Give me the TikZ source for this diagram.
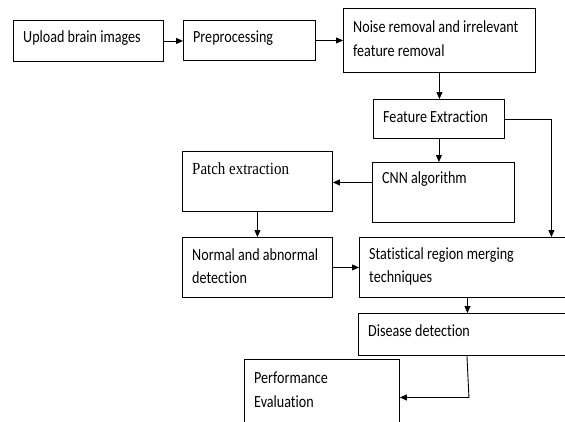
\documentclass[tikz,border=0pt]{standalone}
\usepackage{fontspec}
\setmainfont{Carlito}[FakeStretch=0.83, Ligatures=NoCommon]
\newfontfamily\timesfont{Liberation Serif}[FakeStretch=0.88]
\usetikzlibrary{arrows.meta}
\begin{document}
\begin{tikzpicture}[x=1pt,y=-1pt,
  box/.style={draw, line width=0.9pt, anchor=north west, inner sep=0pt},
  txt/.style={anchor=west, inner sep=0pt, align=left, font=\fontsize{17}{24.5}\selectfont},
  arr/.style={line width=0.9pt, -{Triangle[length=7pt,width=6pt]}}]
\useasboundingbox (0,0) rectangle (565,421);
\clip (0,0) rectangle (565,421);
% boxes
\node[box, minimum width=150pt, minimum height=41pt] (b1) at (13,20) {};
\node[box, minimum width=132pt, minimum height=40pt] (b2) at (183,20) {};
\node[box, minimum width=192pt, minimum height=64pt] (b3) at (343,8) {};
\node[box, minimum width=131pt, minimum height=39pt] (fe) at (373,99) {};
\node[box, minimum width=142pt, minimum height=60pt] (cnn) at (372,162) {};
\node[box, minimum width=150pt, minimum height=60pt] (patch) at (182,151) {};
\node[box, minimum width=150pt, minimum height=60pt] (normal) at (182,237) {};
\node[box, minimum width=216pt, minimum height=60pt] (stat) at (359,237) {};
\node[box, minimum width=217pt, minimum height=42pt] (disease) at (358,313) {};
\node[box, minimum width=155pt, minimum height=76pt] (perf) at (244,359) {};
% texts
\node[txt] (t1) at (23,38) {Upload brain images};
\node[txt] (t2) at (193,38) {Preprocessing};
\node[txt] (t3) at (353,38.5) {Noise removal and irrelevant\\feature removal};
\node[txt] (t4) at (383,117) {Feature Extraction};
\node[txt] (t5) at (382,179) {CNN algorithm};
\node[txt, font=\timesfont\fontsize{17}{20}\selectfont] (t6) at (192,169) {Patch extraction};
\node[txt, font=\fontsize{17}{23}\selectfont] (t7) at (192,266.5) {Normal and abnormal\\detection};
\node[txt, font=\fontsize{17}{23}\selectfont] (t8) at (369,266.5) {Statistical region merging\\techniques};
\node[txt] (t9) at (368,331) {Disease detection};
\node[txt] (t10) at (254,389.5) {Performance\\Evaluation};
% connectors
\draw[arr] (b1.east) -- (b1.east -| b2.west);
\draw[arr] (b2.east) -- (b2.east -| b3.west);
\draw[arr] (b3.south) -- (b3.south |- fe.north);
\draw[arr] (fe.south) -- (fe.south |- cnn.north);
\draw[arr] ([yshift=10pt]cnn.west) -- ([yshift=10pt]cnn.west -| patch.east);
\draw[arr] (fe.east) -| ([xshift=84pt]stat.north);
\draw[arr] (patch.south) -- (normal.north);
\draw[arr] (normal.east) -- (stat.west);
\draw[arr] (stat.south) -- (stat.south |- disease.north);
\draw[arr] (disease.south) -- ([xshift=2pt]disease.south |- perf.east) -- (perf.east);
\end{tikzpicture}
\end{document}
